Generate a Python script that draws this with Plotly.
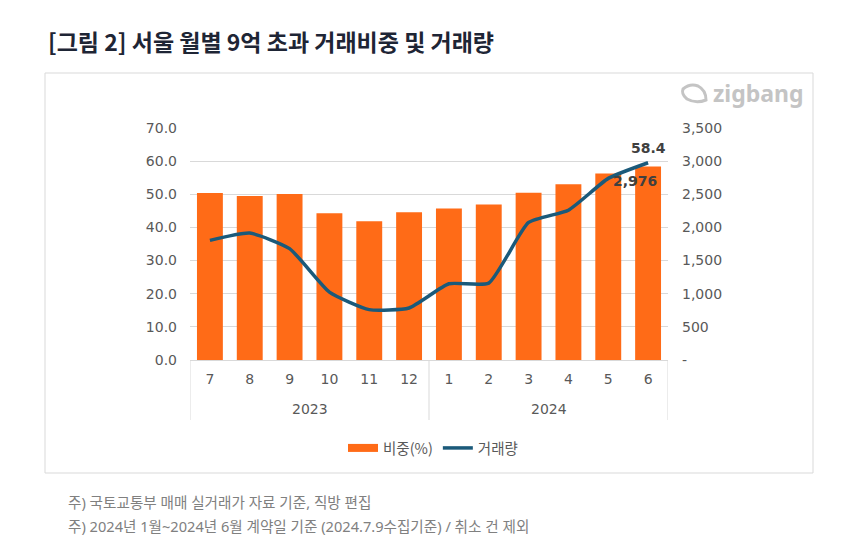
import plotly.graph_objects as go

years = ['2023'] * 6 + ['2024'] * 6
months = ['7', '8', '9', '10', '11', '12', '1', '2', '3', '4', '5', '6']
share_pct = [50.4, 49.5, 50.1, 44.3, 41.9, 44.6, 45.7, 46.9, 50.5, 53.0, 56.3, 58.4]
volume = [1805, 1915, 1680, 1025, 760, 785, 1150, 1160, 2075, 2260, 2740, 2976]
left_ticks = [0, 10, 20, 30, 40, 50, 60, 70]
right_ticks = [0, 500, 1000, 1500, 2000, 2500, 3000, 3500]
right_ticktext = ['-', '500', '1,000', '1,500', '2,000', '2,500', '3,000', '3,500']

ORANGE = '#FF6B17'
NAVY = '#1B5A7A'
GRID = '#D9D9D9'
TICK = '#595959'
CJK = 'Noto Sans CJK KR'
NUM = 'DejaVu Sans, Noto Sans CJK KR'
NOTE = 'Noto Sans, Noto Sans CJK KR'

# page has an 8px body margin: figure coords = reference coords - 8
OFF = 8
W, H = 851, 549
PL, PR, PT, PB = 190, 668, 128, 360  # plot area in reference pixels
L, T = PL - OFF, PT - OFF
R, B = W - (PR - OFF), H - (PB - OFF)
pw, ph = PR - PL, PB - PT


def px(x):
    return (x - PL) / pw


def py(y):
    return (PB - y) / ph


idx = list(range(len(months)))

fig = go.Figure()
fig.add_trace(go.Bar(
    x=idx, y=share_pct, marker_color=ORANGE, marker_line_width=0,
    name='비중(%)', showlegend=False,
))
fig.add_trace(go.Scatter(
    x=[None], y=[None], mode='lines', name='비중(%)',
    line=dict(color=ORANGE, width=8), legendrank=1,
))
fig.add_trace(go.Scatter(
    x=idx, y=volume, yaxis='y2', mode='lines', name='거래량',
    line=dict(color=NAVY, width=3.5, shape='spline', smoothing=0.5),
    legendrank=2,
))

fig.update_layout(
    width=W, height=H,
    margin=dict(l=L, r=R, t=T, b=B, autoexpand=False),
    paper_bgcolor='white', plot_bgcolor='white',
    font=dict(family=NUM, size=14, color=TICK),
    bargap=0.35,
    showlegend=True,
    legend=dict(orientation='h', x=px(433), xanchor='center', y=py(448), yanchor='middle',
                font=dict(family=CJK, size=14.5, color=TICK), itemwidth=30,
                bgcolor='rgba(0,0,0,0)'),
    xaxis=dict(range=[-0.5, len(months) - 0.5], tickmode='array', tickvals=idx,
               ticktext=months, showline=True, linecolor=GRID, linewidth=1,
               showgrid=False, zeroline=False, ticks='', ticklabelstandoff=6,
               tickfont=dict(family=NUM, size=14, color=TICK)),
    yaxis=dict(range=[0, 70], tickvals=left_ticks,
               ticktext=[f'{v:.1f}' for v in left_ticks], showgrid=True,
               gridcolor=GRID, gridwidth=1, zeroline=False, ticks='',
               ticklabelstandoff=12, tickfont=dict(family=NUM, size=14, color=TICK)),
    yaxis2=dict(range=[0, 3500], overlaying='y', side='right', tickvals=right_ticks,
                ticktext=right_ticktext, showgrid=False, zeroline=False, ticks='',
                ticklabelstandoff=13, tickfont=dict(family=NUM, size=14, color=TICK)),
)

# year groups derived from the data
groups = []
for i, yv in enumerate(years):
    if not groups or groups[-1][0] != yv:
        groups.append([yv, i, i])
    else:
        groups[-1][2] = i

shapes = [
    dict(type='rect', xref='paper', yref='paper', x0=px(45), x1=px(813), y0=py(473), y1=py(73),
         line=dict(color=GRID, width=1), fillcolor='rgba(0,0,0,0)', layer='below'),
    # zigbang logo icon (decorative)
    dict(type='path', xref='paper', yref='paper',
         path=(f'M {px(683)},{py(89)} Q {px(690)},{py(83)} {px(698)},{py(86)} '
               f'Q {px(706)},{py(90)} {px(706)},{py(100)} Q {px(696)},{py(104)} {px(687)},{py(99)} '
               f'Q {px(681)},{py(94)} {px(683)},{py(89)} Z'),
         line=dict(color='#C4C4C4', width=3), fillcolor='rgba(0,0,0,0)'),
]
bounds = sorted({g[1] - 0.5 for g in groups} | {g[2] + 0.5 for g in groups})
for bx in bounds:
    shapes.append(dict(type='line', xref='x', yref='paper', x0=bx, x1=bx, y0=0, y1=py(420),
                       line=dict(color=GRID, width=1)))
fig.update_layout(shapes=shapes)

last = len(months) - 1
annotations = [
    dict(text=f'<b>{share_pct[last]:.1f}</b>', xref='x', yref='y', x=last, y=share_pct[last],
         yshift=18, xanchor='center', yanchor='middle', showarrow=False,
         font=dict(family='DejaVu Sans', size=14, color='#404040')),
    dict(text=f'<b>{volume[last]:,}</b>', xref='x', yref='y2', x=last, y=volume[last],
         yshift=-18, xshift=-13, xanchor='center', yanchor='middle', showarrow=False,
         font=dict(family='DejaVu Sans', size=14, color='#404040')),
    dict(text='<b>[그림 2] 서울 월별 9억 초과 거래비중 및 거래량</b>', xref='paper', yref='paper',
         x=px(46), y=py(41), xanchor='left', yanchor='middle', showarrow=False,
         font=dict(family=CJK, size=23, color='#1E2535')),
    dict(text='<b>zigbang</b>', xref='paper', yref='paper', x=px(711), y=py(93),
         xanchor='left', yanchor='middle', showarrow=False,
         font=dict(family='Noto Sans', size=23, color='#C4C4C4')),
    dict(text='주) 국토교통부 매매 실거래가 자료 기준, 직방 편집', xref='paper', yref='paper',
         x=px(66), y=py(502), xanchor='left', yanchor='middle', showarrow=False,
         font=dict(family=NOTE, size=14.6, color='#808080')),
    dict(text='주) 2024년 1월~2024년 6월 계약일 기준 (2024.7.9수집기준) / 취소 건 제외',
         xref='paper', yref='paper', x=px(66), y=py(526), xanchor='left', yanchor='middle',
         showarrow=False, font=dict(family=NOTE, size=14.6, color='#808080')),
]
for g in groups:
    annotations.append(dict(text=g[0], xref='x', yref='paper', x=(g[1] + g[2]) / 2, y=py(409),
                            xanchor='center', yanchor='middle', showarrow=False,
                            font=dict(family=NUM, size=14, color=TICK)))
fig.update_layout(annotations=annotations)

fig.write_html('out.html')
